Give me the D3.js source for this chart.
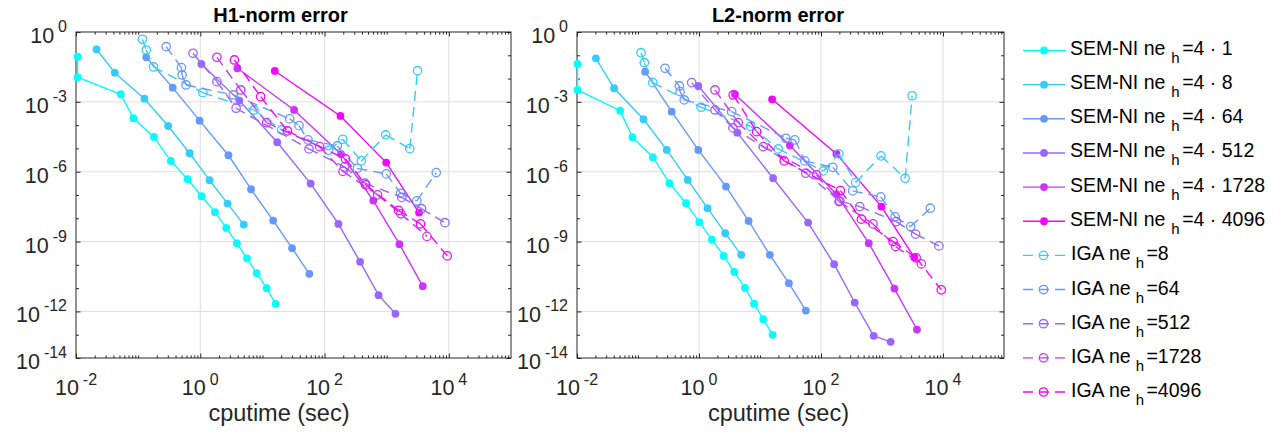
<!DOCTYPE html>
<html><head><meta charset="utf-8">
<script src="https://cdn.jsdelivr.net/npm/d3@7"></script>
<style>
body{margin:0;background:#fff;}
svg{display:block;font-family:"Liberation Sans",Arial,Helvetica,sans-serif;}
</style>
</head><body>
<svg id="chart" width="1286" height="438"></svg>
<script>
// ---------- data: [cputime (sec), error] ----------
// H1-norm error (left panel)
const semH1_1 = [[0.0106,0.087],[0.0106,0.0114],[0.0525,2.12e-3],[0.0838,1.98e-4],[0.179,3.12e-5],[0.335,2.91e-6],[0.626,4.77e-7],[1.05,8.88e-8],[1.72,1.83e-8],[2.61,3.87e-9],[3.87,8.54e-10],[5.65,1.9e-10],[8.07,4.4e-11],[11.7,1e-11],[16.3,2.12e-12]];
const semH1_8 = [[0.0214,0.181],[0.0421,0.0179],[0.126,1.37e-3],[0.304,9.2e-5],[0.674,6.22e-6],[1.41,4.32e-7],[2.75,4.27e-8],[5.0,5.37e-9]];
const semH1_64 = [[0.135,0.082],[0.36,4.07e-3],[0.975,1.56e-4],[2.84,5.1e-6],[6.55,1.77e-7],[14.9,7.96e-9],[30,5.2e-10],[56.9,4.1e-11]];
const semH1_512 = [[1.04,0.0423],[4.25,1.13e-3],[17.3,1.85e-5],[59.7,3.08e-7],[167,5.75e-9],[373,1.35e-10],[739,5e-12],[1383,7.9e-13]];
const semH1_1728 = [[3.95,0.0277],[32.3,4.49e-4],[184,5.69e-6],[608,5.75e-8],[1602,7.73e-10],[3795,1.22e-11]];
const semH1_4096 = [[15.8,0.0212],[180,2.48e-4],[982,2.46e-6],[3311,1.76e-8]];
const igaH1_8 = [[0.117,0.486],[0.135,0.169],[0.177,0.0315],[1.1,2.48e-3],[7.31,4.49e-4],[20.3,6.22e-5],[116,8.37e-6],[196,2.48e-5],[391,2.91e-6],[964,3.8e-5],[2351,9.8e-6],[3133,0.0218]];
const igaH1_64 = [[0.283,0.234],[0.497,0.0294],[0.509,0.0143],[0.59,5.31e-3],[3.41,1.98e-3],[27.5,1.85e-4],[38.8,9.5e-5],[54.1,2.32e-5],[160,1.28e-5],[337,1.39e-6],[982,8.05e-7],[1675,1.19e-7],[3055,5.58e-8],[6266,9.15e-7]];
const igaH1_512 = [[0.764,0.122],[1.85,7.36e-3],[3.77,5.31e-4],[56.1,9.52e-6],[209,1.61e-6],[445,3.21e-7],[1750,7.89e-8],[3631,2.58e-8],[8630,6.47e-9]];
const igaH1_1728 = [[1.85,0.082],[4.48,3.24e-3],[11.7,1.28e-4],[83.2,1.19e-5],[198,1.03e-6],[713,1.01e-7],[1694,1.55e-8],[4446,1.67e-9]];
const igaH1_4096 = [[3.54,0.0629],[9.36,1.67e-3],[25.3,5.64e-5],[217,3.54e-6],[461,2.71e-7],[1545,2.18e-8],[3499,5.75e-9],[9397,2.43e-10]];

// L2-norm error (right panel)
const semL2_1 = [[0.0102,0.0423],[0.0102,3.24e-3],[0.0509,4.19e-4],[0.081,3.03e-5],[0.175,4.19e-6],[0.327,3.21e-7],[0.612,4.45e-8],[1.01,6.8e-9],[1.63,1.22e-9],[2.54,2.43e-10],[3.78,5.01e-11],[5.66,1.03e-11],[8.0,2.16e-12],[11.3,4.67e-13],[16.1,9.9e-14]];
const semL2_8 = [[0.0204,0.0743],[0.0406,3.84e-3],[0.123,1.79e-4],[0.296,8.63e-6],[0.653,4.45e-7],[1.38,2.71e-8],[2.69,2.3e-9],[4.92,2.69e-10]];
const semL2_64 = [[0.131,0.0198],[0.357,3.8e-4],[0.975,8.63e-6],[2.77,2.3e-7],[6.5,7.73e-9],[14.5,2.69e-10],[29.7,1.64e-11],[56.4,1.09e-12]];
const semL2_512 = [[0.975,4.81e-3],[4.24,4.77e-5],[16.4,5.26e-7],[61.5,6.53e-9],[164,1.07e-10],[357,2.41e-12],[731,8.97e-14],[1387,4.96e-14]];
const semL2_1728 = [[3.88,2.12e-3],[30.9,1.32e-5],[179,1.08e-7],[606,8.54e-10],[1596,9.62e-12],[3741,1.67e-13]];
const semL2_4096 = [[15.8,1.29e-3],[179,5.81e-6],[977,3.18e-8],[3365,2.14e-10]];
const igaL2_8 = [[0.112,0.129],[0.127,0.0481],[0.175,6.67e-3],[1.08,5.86e-4],[6.96,8.97e-5],[19.9,9.52e-6],[109,1.08e-6],[196,5.81e-6],[371,3.47e-7],[963,4.77e-6],[2399,5.26e-7],[3119,1.83e-3]];
const igaL2_64 = [[0.278,0.0277],[0.476,4.81e-3],[0.489,2.74e-3],[0.574,1.21e-3],[3.43,3.8e-4],[26.5,2.74e-5],[37.3,2.32e-5],[54.3,2.91e-6],[156,1.53e-6],[331,1.5e-7],[952,8.28e-8],[1644,1.15e-8],[2951,4.4e-9],[6194,2.71e-8]];
const igaL2_512 = [[0.76,6.67e-3],[1.83,4.49e-4],[3.6,7.59e-5],[56.4,8.62e-7],[203,5.58e-8],[432,3.18e-8],[1720,7.22e-9],[3562,2.08e-9],[8570,6.53e-10]];
const igaL2_1728 = [[1.83,3.24e-3],[4.4,1.28e-4],[11.3,1.19e-5],[84.4,7.3e-7],[198,5.21e-8],[712,5.75e-9],[1675,6.1e-10],[4415,1.1e-10]];
const igaL2_4096 = [[3.64,1.98e-3],[8.8,5.26e-5],[24.9,2.91e-6],[208,1.55e-7],[460,9.15e-9],[1514,1e-9],[3631,2e-10],[9376,8.45e-12]];

// ---------- labels / ticks ----------
const titles = ['H1-norm error', 'L2-norm error'];
const xLabel = 'cputime (sec)';
const semNe = ['1', '8', '64', '512', '1728', '4096'];
const igaNe = ['8', '64', '512', '1728', '4096'];
const xTickExps = [-2, 0, 2, 4];
const yTickExps = [0, -3, -6, -9, -12, -14];
const xDomain = [1e-2, 1e5];
const yDomain = [1e-14, 1];

// ---------- styling ----------
const colors = ['#00ffff', '#33ccff', '#6699ff', '#9966ff', '#cc33ff', '#ff00ff'];
const axisColor = '#262626';
const gridColor = '#dedede';
const lw = 1.4, rDot = 3.9, rOpen = 4.2, dash = '10,6';

const svg = d3.select('#chart');
svg.append('rect').attr('width', 1286).attr('height', 438).attr('fill', '#fff');

const panels = [
  {x0: 76, x1: 511, tx: 280.5, lx: 279, sem: [semH1_1, semH1_8, semH1_64, semH1_512, semH1_1728, semH1_4096],
   iga: [igaH1_8, igaH1_64, igaH1_512, igaH1_1728, igaH1_4096]},
  {x0: 577, x1: 1004, tx: 778, lx: 778.5, sem: [semL2_1, semL2_8, semL2_64, semL2_512, semL2_1728, semL2_4096],
   iga: [igaL2_8, igaL2_64, igaL2_512, igaL2_1728, igaL2_4096]}
];
const yTop = 32, yBot = 358;

// tick value sets
const xMajor = xTickExps.map(e => Math.pow(10, e));
const xMinor = [];
for (let e = -2; e <= 4; e++) {
  for (let m = 1; m <= 9; m++) {
    if (m === 1 && e % 2 === 0) continue;
    xMinor.push(m * Math.pow(10, e));
  }
}
const yMajor = yTickExps.map(e => Math.pow(10, e));
const yMinor = [];
for (let e = -13; e <= -1; e++) if (!yTickExps.includes(e)) yMinor.push(Math.pow(10, e));

panels.forEach((p, pi) => {
  const x = d3.scaleLog().domain(xDomain).range([p.x0, p.x1]);
  const y = d3.scaleLog().domain(yDomain).range([yBot, yTop]);
  const g = svg.append('g');

  // grid
  g.selectAll('line.gx').data(xMajor.filter(v => v > xDomain[0])).enter().append('line')
    .attr('x1', d => x(d)).attr('x2', d => x(d)).attr('y1', yTop).attr('y2', yBot)
    .attr('stroke', gridColor).attr('stroke-width', 1);
  g.selectAll('line.gy').data(yMajor.filter(v => v > yDomain[0] && v < yDomain[1])).enter().append('line')
    .attr('y1', d => y(d)).attr('y2', d => y(d)).attr('x1', p.x0).attr('x2', p.x1)
    .attr('stroke', gridColor).attr('stroke-width', 1);

  // axes ticks (inward)
  const mk = (axisFn, scale, vals, size, tr) => {
    const a = g.append('g').attr('transform', tr).attr('color', axisColor)
      .call(axisFn(scale).tickValues(vals).tickSizeInner(size).tickSizeOuter(0).tickFormat(''));
    a.select('.domain').remove();
    a.selectAll('line').attr('stroke-width', 1);
  };
  mk(d3.axisBottom, x, xMajor, -4.5, `translate(0,${yBot})`);
  mk(d3.axisBottom, x, xMinor, -2.6, `translate(0,${yBot})`);
  mk(d3.axisTop, x, xMajor, -4.5, `translate(0,${yTop})`);
  mk(d3.axisTop, x, xMinor, -2.6, `translate(0,${yTop})`);
  mk(d3.axisLeft, y, yMajor, -4.5, `translate(${p.x0},0)`);
  mk(d3.axisLeft, y, yMinor, -3, `translate(${p.x0},0)`);
  mk(d3.axisRight, y, yMajor, -4.5, `translate(${p.x1},0)`);
  mk(d3.axisRight, y, yMinor, -3, `translate(${p.x1},0)`);

  // box
  g.append('rect').attr('x', p.x0).attr('y', yTop).attr('width', p.x1 - p.x0).attr('height', yBot - yTop)
    .attr('fill', 'none').attr('stroke', axisColor).attr('stroke-width', 1);

  // tick labels
  xTickExps.forEach(e => {
    const t = g.append('text').attr('x', x(Math.pow(10, e))).attr('y', 395)
      .attr('text-anchor', 'middle').attr('fill', axisColor);
    t.append('tspan').attr('font-size', 21.5).text('10');
    t.append('tspan').attr('font-size', 16).attr('dx', 4).attr('dy', -10).text(String(e));
  });
  yTickExps.forEach(e => {
    const t = g.append('text').attr('x', p.x0 - 9).attr('y', y(Math.pow(10, e)) + 11)
      .attr('text-anchor', 'end').attr('fill', axisColor);
    t.append('tspan').attr('font-size', 21.5).text('10');
    t.append('tspan').attr('font-size', 16).attr('dx', 4).attr('dy', -11).text(String(e));
  });

  // title & x label
  g.append('text').attr('x', p.tx).attr('y', 22).attr('text-anchor', 'middle')
    .attr('font-size', 20).attr('font-weight', 'bold').attr('fill', '#000').text(titles[pi]);
  g.append('text').attr('x', p.lx).attr('y', 421).attr('text-anchor', 'middle')
    .attr('font-size', 23.5).attr('fill', axisColor).text(xLabel);

  // data
  const line = d3.line().x(d => x(d[0])).y(d => y(d[1]));
  p.sem.forEach((s, i) => {
    g.append('path').attr('d', line(s)).attr('fill', 'none').attr('stroke', colors[i]).attr('stroke-width', lw);
    g.selectAll(null).data(s).enter().append('circle')
      .attr('cx', d => x(d[0])).attr('cy', d => y(d[1])).attr('r', rDot).attr('fill', colors[i]).attr('stroke', 'none');
  });
  p.iga.forEach((s, j) => {
    const c = colors[j + 1];
    g.selectAll(null).data(s).enter().append('circle')
      .attr('cx', d => x(d[0])).attr('cy', d => y(d[1])).attr('r', rOpen).attr('fill', 'none')
      .attr('stroke', c).attr('stroke-width', 1.3);
    g.selectAll(null).data(d3.pairs(s)).enter().append('path')
      .attr('d', d => line(d)).attr('fill', 'none').attr('stroke', c).attr('stroke-width', lw)
      .attr('stroke-dasharray', dash);
  });
});

// ---------- legend ----------
const lg = svg.append('g');
const legY = i => 50.5 + 34.15 * i;
semNe.forEach((n, i) => {
  const yy = legY(i);
  lg.append('line').attr('x1', 1023).attr('x2', 1065).attr('y1', yy).attr('y2', yy)
    .attr('stroke', colors[i]).attr('stroke-width', lw);
  lg.append('circle').attr('cx', 1044).attr('cy', yy).attr('r', rDot).attr('fill', colors[i]);
  const t = lg.append('text').attr('x', 1070).attr('y', yy + 4.5).attr('font-size', 19.5).attr('fill', '#000');
  t.append('tspan').text('SEM-NI ne');
  t.append('tspan').attr('font-size', 15).attr('dx', 6).attr('dy', 8).text('h');
  t.append('tspan').attr('dx', 2.5).attr('dy', -8).text('=4 \u00b7 ' + n);
});
igaNe.forEach((n, j) => {
  const yy = legY(6 + j), c = colors[j + 1];
  lg.append('line').attr('x1', 1023).attr('x2', 1065).attr('y1', yy).attr('y2', yy)
    .attr('stroke', c).attr('stroke-width', lw).attr('stroke-dasharray', dash);
  lg.append('circle').attr('cx', 1043.5).attr('cy', yy).attr('r', rOpen).attr('fill', 'none').attr('stroke', c).attr('stroke-width', 1.3);
  const t = lg.append('text').attr('x', 1071).attr('y', yy + 5).attr('font-size', 19.5).attr('fill', '#000');
  t.append('tspan').text('IGA ne');
  t.append('tspan').attr('font-size', 15).attr('dx', 5).attr('dy', 8).text('h');
  t.append('tspan').attr('dx', 2.5).attr('dy', -8).text('=' + n);
});
</script>
</body></html>
